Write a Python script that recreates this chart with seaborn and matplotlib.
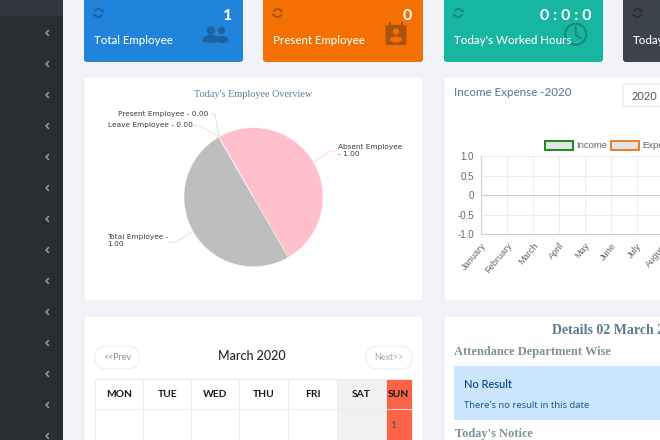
import matplotlib
matplotlib.use("Agg")
import matplotlib.pyplot as plt
from matplotlib.patches import Rectangle, FancyBboxPatch, Circle, Arc, Polygon, Ellipse
import pandas as pd
import seaborn as sns

# Chart data
pie_labels = ["Absent Employee", "Total Employee", "Leave Employee", "Present Employee"]
pie_values = [1.00, 1.00, 0.00, 0.00]
pie_colors = ["#ffc0cb", "#bebebe", "#f6dcb8", "#cfe8cf"]
months = ["January", "February", "March", "April", "May", "June", "July",
          "August", "September", "October", "November", "December"]
income = [0, 0, 0, 0, 0, 0, 0, 0, 0, 0, 0, 0]
expense = [0, 0, 0, 0, 0, 0, 0, 0, 0, 0, 0, 0]
y_ticks = [-1.0, -0.5, 0, 0.5, 1.0]
y_tick_labels = ["-1.0", "-0.5", "0", "0.5", "1.0"]
week_days = ["MON", "TUE", "WED", "THU", "FRI", "SAT", "SUN"]
card_titles = ["Total Employee", "Present Employee", "Today's Worked Hours", "Today's"]
card_values = ["1", "0", "0 : 0 : 0", ""]

W, H = 660, 440
SANS = "Lato"
SERIF = "Liberation Serif"

sns.set_theme(style="white")
plt.rcParams["font.family"] = [SANS, "DejaVu Sans"]
# seaborn forces white edges on patches, the icons and sidebar do not want them
plt.rcParams["patch.force_edgecolor"] = False
plt.rcParams["patch.edgecolor"] = "none"
plt.rcParams["patch.linewidth"] = 0

fig = plt.figure(figsize=(W / 100, H / 100), dpi=100, facecolor="#f1f3f8")
bg = fig.add_axes([0, 0, 1, 1], zorder=0)
bg.set_xlim(0, W)
bg.set_ylim(H, 0)
bg.axis("off")


def box(x0, y0, x1, y1, color, edge="none", lw=0, rad=3, z=1):
    bg.add_patch(FancyBboxPatch((x0 + rad, y0 + rad), x1 - x0 - 2 * rad, y1 - y0 - 2 * rad,
                                boxstyle=f"round,pad={rad},rounding_size={rad}",
                                fc=color, ec=edge, lw=lw, zorder=z))


def text(x, y, s, size, color, family=SANS, weight="normal", ha="left", va="center", **kw):
    bg.text(x, y, s, fontsize=size, color=color, family=family, weight=weight,
            ha=ha, va=va, zorder=6, **kw)


def px_axes(x0, y0, x1, y1):
    return fig.add_axes([x0 / W, 1 - y1 / H, (x1 - x0) / W, (y1 - y0) / H], zorder=2)


# Sidebar
bg.add_patch(Rectangle((0, 0), 63, H, fc="#2a2e33", zorder=1))
bg.add_patch(Rectangle((0, 0), 63, 16, fc="#34383e", zorder=1))
for i in range(14):
    cy = 33 + i * 31
    bg.plot([48.5, 46, 48.5], [cy - 2.5, cy, cy + 2.5], color="#9a9da1", lw=1.1, zorder=2)


def refresh_icon(cx, cy, color):
    bg.add_patch(Arc((cx, cy), 8, 8, theta1=200, theta2=340, color=color, lw=1.4, zorder=4))
    bg.add_patch(Arc((cx, cy), 8, 8, theta1=20, theta2=160, color=color, lw=1.4, zorder=4))
    bg.add_patch(Polygon([(cx + 2.5, cy - 1), (cx + 5.5, cy - 1), (cx + 5, cy - 4)], fc=color, zorder=4))
    bg.add_patch(Polygon([(cx - 2.5, cy + 1), (cx - 5.5, cy + 1), (cx - 5, cy + 4)], fc=color, zorder=4))


# Top cards
cards = [(84, 243, "#2083dc", "#1f609f"), (263, 423, "#f57002", "#a9530f"),
         (444, 603, "#17b6a0", "#128a7a"), (623, 700, "#3d434b", "#2a2e33")]
for (x0, x1, col, dark), title, val in zip(cards, card_titles, card_values):
    box(x0, -8, x1, 62, col)
    refresh_icon(x0 + 14.5, 13, dark)
    text(x0 + 10, 40.5, title, 8.3, "white", weight="medium")
for (x0, x1, col, dark), val in zip(cards[:3], card_values):
    text(x1 - 11, 16, val, 11.5, "white", ha="right", weight="bold")

# people icon
ic = cards[0][3]
bg.add_patch(Circle((211, 30.5), 4.2, fc=ic, zorder=4))
bg.add_patch(Circle((221.5, 30.5), 3.6, fc=ic, zorder=4))
bg.add_patch(Ellipse((222, 39.5), 12, 7, fc=ic, zorder=4))
bg.add_patch(Ellipse((211, 39), 16, 8, fc=ic, zorder=4))
bg.add_patch(Rectangle((203, 39), 16, 3.5, fc=ic, zorder=4))
bg.add_patch(Rectangle((216, 39.5), 12, 3, fc=ic, zorder=4))

# contact icon
ic = cards[1][3]
box(385.5, 25, 406.5, 45, ic, rad=2, z=4)
bg.add_patch(Rectangle((389, 22), 2, 4, fc=ic, zorder=4))
bg.add_patch(Rectangle((401, 22), 2, 4, fc=ic, zorder=4))
bg.add_patch(Circle((396, 31.5), 3.2, fc="#f57002", zorder=5))
bg.add_patch(Ellipse((396, 39.5), 12, 6, fc="#f57002", zorder=5))

# clock icon
ic = cards[2][3]
bg.add_patch(Circle((575.7, 34.3), 10.5, fc="none", ec=ic, lw=1.5, zorder=4))
bg.plot([575.7, 575.7, 581], [27, 35, 38.5], color=ic, lw=1.4, zorder=4)

# Panels
box(84, 77, 423, 301, "white", edge="#eceef3", lw=0.6)
box(444, 77, 700, 301, "white", edge="#eceef3", lw=0.6)
box(84, 316, 423, 470, "white", edge="#eceef3", lw=0.6)
box(444, 316, 700, 470, "white", edge="#eceef3", lw=0.6)

# Pie chart
text(253.5, 94.5, "Today's Employee Overview", 7.4, "#5f7f93", family=SERIF, ha="center")
pie_ax = px_axes(184, 127.7, 323, 266.7)
pie_ax.pie(pie_values, colors=pie_colors, startangle=120, counterclock=False, radius=1,
           wedgeprops={"linewidth": 0.3, "edgecolor": "white"})
pie_ax.set_xlim(-1, 1)
pie_ax.set_ylim(-1, 1)

label_col = "#3c3c3c"
PIE_FONT = "DejaVu Sans"
text(118, 114, f"{pie_labels[3]} - {pie_values[3]:.2f}", 5.35, label_col, family=PIE_FONT)
text(108, 125, f"{pie_labels[2]} - {pie_values[2]:.2f}", 5.35, label_col, family=PIE_FONT)
text(338, 151, f"{pie_labels[0]}\n- {pie_values[0]:.2f}", 5.35, label_col, family=PIE_FONT, linespacing=1.2)
text(107, 241, f"{pie_labels[1]} -\n{pie_values[1]:.2f}", 5.35, label_col, family=PIE_FONT, linespacing=1.2)
bg.plot([211, 215, 219], [114, 114, 137], color="#d5e8d5", lw=0.7, zorder=3)
bg.plot([192, 200, 219], [126, 126, 137], color="#f6e2c4", lw=0.7, zorder=3)
bg.plot([335, 330, 314], [151, 151, 162], color="#ffd5dc", lw=0.7, zorder=3)
bg.plot([169, 176, 192], [242, 242, 232], color="#dddddd", lw=0.7, zorder=3)

# Income / expense chart
text(454, 92, "Income Expense -2020", 8.4, "#5b8299", weight="medium")
box(623, 84, 700, 106.7, "white", edge="#e4e6ea", lw=0.7, rad=2)
text(632, 96, "2020", 8, "#555a60")

line_ax = px_axes(481, 156, 481 + 11 * 26, 234.3)
frame = pd.DataFrame({"month": list(range(len(months))) * 2, "amount": income + expense,
                      "series": ["Income"] * len(months) + ["Expense"] * len(months)})
sns.lineplot(data=frame, x="month", y="amount", hue="series", palette=["#cfcfcf", "#cfcfcf"],
             linewidth=0.8, legend=False, ax=line_ax)
line_ax.set_xlim(0, len(months) - 1)
line_ax.set_ylim(-1, 1)
line_ax.set_xticks(range(len(months)))
line_ax.set_xticklabels(months, rotation=50, ha="right", rotation_mode="anchor",
                        fontsize=6.6, color="#666666", family="Liberation Sans")
line_ax.set_yticks(y_ticks)
line_ax.set_yticklabels(y_tick_labels, fontsize=7, color="#666666", family="Liberation Sans")
line_ax.set_xlabel("")
line_ax.set_ylabel("")
line_ax.grid(True, color="#ececec", lw=0.7)
line_ax.tick_params(axis="both", length=3, width=0.7, color="#ececec", pad=2)
line_ax.patch.set_alpha(0)
for name, sp in line_ax.spines.items():
    sp.set_visible(name in ("left", "bottom"))
    sp.set_color("#cfcfcf")
    sp.set_linewidth(0.8)

bg.add_patch(Rectangle((545, 141), 27.5, 9, fc="#e4e4e4", ec="#1a8a1a", lw=1.4, zorder=3))
text(576, 145.5, "Income", 6.8, "#666666", family="Liberation Sans")
bg.add_patch(Rectangle((610.5, 141), 28, 9, fc="#e4e4e4", ec="#ed7d24", lw=1.4, zorder=3))
text(642.5, 145.5, "Expense", 6.8, "#666666", family="Liberation Sans")

# Calendar
box(95, 346, 139, 369, "white", edge="#eceef2", lw=0.8, rad=11)
box(366, 346, 412, 369, "white", edge="#eceef2", lw=0.8, rad=11)
text(117, 357.5, "<<Prev", 6.4, "#8a9097", ha="center")
text(389, 357.5, "Next>>", 6.4, "#a4a9ae", ha="center")
text(252, 355.5, "March 2020", 9, "#22262a", ha="center", weight="medium")

col_x = [95, 143.3, 191.3, 239.3, 288.3, 337.3, 385.7, 412]
bg.add_patch(Rectangle((col_x[5], 379), col_x[6] - col_x[5], 80, fc="#f1f1f1", zorder=2))
bg.add_patch(Rectangle((col_x[6], 379), col_x[7] - col_x[6], 80, fc="#ff6347", zorder=2))
for x in col_x:
    bg.plot([x, x], [379, 445], color="#e9ecef", lw=0.7, zorder=3)
bg.plot([95, 412], [379, 379], color="#e9ecef", lw=0.7, zorder=3)
bg.plot([95, 412], [409.3, 409.3], color="#e9ecef", lw=0.7, zorder=3)
for i, day in enumerate(week_days):
    text((col_x[i] + col_x[i + 1]) / 2, 394.5, day, 7.4, "#16191c", ha="center", weight="bold")
text(393, 425, "1", 7.4, "#6e5a5a", weight="bold", ha="center")

# Details panel
text(551.5, 331, "Details 02 March 2020", 10, "#5a7a8c", family=SERIF, weight="bold")
text(454.5, 352.5, "Attendance Department Wise", 8.9, "#7e9098", family=SERIF, weight="bold")
bg.add_patch(Rectangle((454, 366), 250, 54, fc="#cce5ff", zorder=2))
text(464, 385, "No Result", 7.9, "#004085", weight="medium")
text(464, 406, "There's no result in this date", 6.8, "#1a5a94", family="Noto Sans")
text(455, 434, "Today's Notice", 8.9, "#7e9098", family=SERIF, weight="bold")

plt.savefig("out.png", dpi=100, facecolor=fig.get_facecolor())
